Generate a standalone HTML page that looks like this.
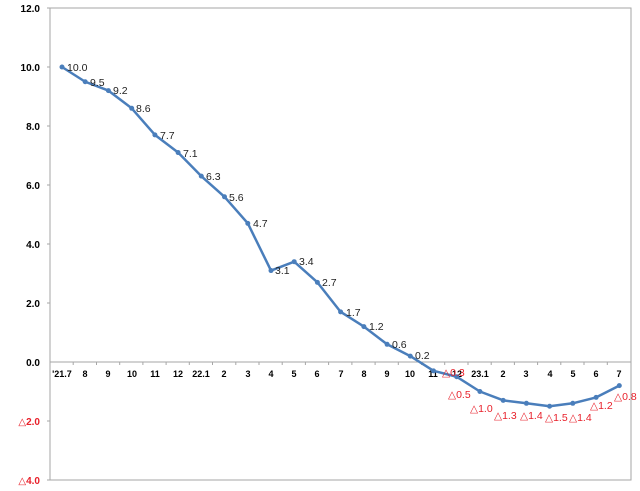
<!DOCTYPE html>
<html><head><meta charset="utf-8"><style>
html,body{margin:0;padding:0;background:#fff;}
svg{display:block;font-family:"Liberation Sans","DejaVu Sans",sans-serif;}
</style></head><body>
<svg width="640" height="491" viewBox="0 0 640 491" xmlns="http://www.w3.org/2000/svg">
<rect x="0" y="0" width="640" height="491" fill="#fff"/>
<rect x="50" y="8" width="581" height="472" fill="none" stroke="#a6a6a6" stroke-width="1"/>
<line x1="50" y1="362" x2="631" y2="362" stroke="#a6a6a6"/>
<g stroke="#a6a6a6">
<line x1="47" y1="8" x2="50" y2="8"/><line x1="47" y1="67" x2="50" y2="67"/><line x1="47" y1="126" x2="50" y2="126"/><line x1="47" y1="185" x2="50" y2="185"/><line x1="47" y1="244" x2="50" y2="244"/><line x1="47" y1="303" x2="50" y2="303"/><line x1="47" y1="421" x2="50" y2="421"/><line x1="47" y1="480" x2="50" y2="480"/>
<line x1="73.2" y1="362" x2="73.2" y2="365"/><line x1="96.5" y1="362" x2="96.5" y2="365"/><line x1="119.7" y1="362" x2="119.7" y2="365"/><line x1="142.9" y1="362" x2="142.9" y2="365"/><line x1="166.1" y1="362" x2="166.1" y2="365"/><line x1="189.3" y1="362" x2="189.3" y2="365"/><line x1="212.5" y1="362" x2="212.5" y2="365"/><line x1="235.8" y1="362" x2="235.8" y2="365"/><line x1="259" y1="362" x2="259" y2="365"/><line x1="282.2" y1="362" x2="282.2" y2="365"/><line x1="305.4" y1="362" x2="305.4" y2="365"/><line x1="328.6" y1="362" x2="328.6" y2="365"/><line x1="351.9" y1="362" x2="351.9" y2="365"/><line x1="375.1" y1="362" x2="375.1" y2="365"/><line x1="398.3" y1="362" x2="398.3" y2="365"/><line x1="421.5" y1="362" x2="421.5" y2="365"/><line x1="444.7" y1="362" x2="444.7" y2="365"/><line x1="468" y1="362" x2="468" y2="365"/><line x1="491.2" y1="362" x2="491.2" y2="365"/><line x1="514.4" y1="362" x2="514.4" y2="365"/><line x1="537.6" y1="362" x2="537.6" y2="365"/><line x1="560.8" y1="362" x2="560.8" y2="365"/><line x1="584" y1="362" x2="584" y2="365"/><line x1="607.3" y1="362" x2="607.3" y2="365"/>
</g>
<g font-size="10" font-weight="bold" text-anchor="end">
<text x="40" y="12" fill="#000">12.0</text>
<text x="40" y="71" fill="#000">10.0</text>
<text x="40" y="130" fill="#000">8.0</text>
<text x="40" y="189" fill="#000">6.0</text>
<text x="40" y="248" fill="#000">4.0</text>
<text x="40" y="307" fill="#000">2.0</text>
<text x="40" y="366" fill="#000">0.0</text>
<text x="40" y="425" fill="#e8202a">△2.0</text>
<text x="40" y="484" fill="#e8202a">△4.0</text>
</g>
<g font-size="9" font-weight="bold" text-anchor="middle" fill="#000">
<text x="62" y="377">'21.7</text><text x="85" y="377">8</text><text x="108" y="377">9</text><text x="132" y="377">10</text><text x="155" y="377">11</text><text x="178" y="377">12</text><text x="201" y="377">22.1</text><text x="224" y="377">2</text><text x="248" y="377">3</text><text x="271" y="377">4</text><text x="294" y="377">5</text><text x="317" y="377">6</text><text x="341" y="377">7</text><text x="364" y="377">8</text><text x="387" y="377">9</text><text x="410" y="377">10</text><text x="433" y="377">11</text><text x="457" y="377">12</text><text x="480" y="377">23.1</text><text x="503" y="377">2</text><text x="526" y="377">3</text><text x="550" y="377">4</text><text x="573" y="377">5</text><text x="596" y="377">6</text><text x="619" y="377">7</text>
</g>
<polyline fill="none" stroke="#4a7ebb" stroke-width="2.5" stroke-linejoin="round" points="62,67 85.2,81.75 108.4,90.6 131.7,108.3 154.9,134.85 178.1,152.55 201.3,176.15 224.5,196.8 247.8,223.35 271,270.55 294.2,261.7 317.4,282.35 340.6,311.85 363.9,326.6 387.1,344.3 410.3,356.1 433.5,370.85 456.7,376.75 479.9,391.5 503.2,400.35 526.4,403.3 549.6,406.25 572.8,403.3 596.1,397.4 619.3,385.6"/>
<g fill="#4a7ebb">
<circle cx="62" cy="67" r="2.5"/><circle cx="85.2" cy="81.75" r="2.5"/><circle cx="108.4" cy="90.6" r="2.5"/><circle cx="131.7" cy="108.3" r="2.5"/><circle cx="154.9" cy="134.85" r="2.5"/><circle cx="178.1" cy="152.55" r="2.5"/><circle cx="201.3" cy="176.15" r="2.5"/><circle cx="224.5" cy="196.8" r="2.5"/><circle cx="247.8" cy="223.35" r="2.5"/><circle cx="271" cy="270.55" r="2.5"/><circle cx="294.2" cy="261.7" r="2.5"/><circle cx="317.4" cy="282.35" r="2.5"/><circle cx="340.6" cy="311.85" r="2.5"/><circle cx="363.9" cy="326.6" r="2.5"/><circle cx="387.1" cy="344.3" r="2.5"/><circle cx="410.3" cy="356.1" r="2.5"/><circle cx="433.5" cy="370.85" r="2.5"/><circle cx="456.7" cy="376.75" r="2.5"/><circle cx="479.9" cy="391.5" r="2.5"/><circle cx="503.2" cy="400.35" r="2.5"/><circle cx="526.4" cy="403.3" r="2.5"/><circle cx="549.6" cy="406.25" r="2.5"/><circle cx="572.8" cy="403.3" r="2.5"/><circle cx="596.1" cy="397.4" r="2.5"/><circle cx="619.3" cy="385.6" r="2.5"/>
</g>
<g font-size="10.5" fill="#222">
<text x="67" y="71">10.0</text><text x="90" y="86">9.5</text><text x="113" y="94">9.2</text><text x="136" y="112">8.6</text><text x="160" y="139">7.7</text><text x="183" y="157">7.1</text><text x="206" y="180">6.3</text><text x="229" y="201">5.6</text><text x="253" y="227">4.7</text><text x="275" y="274">3.1</text><text x="299" y="265">3.4</text><text x="322" y="286">2.7</text><text x="346" y="316">1.7</text><text x="369" y="330">1.2</text><text x="392" y="348">0.6</text><text x="415" y="359">0.2</text>
</g>
<g font-size="10.5" fill="#e8202a">
<text x="442" y="376">△0.3</text><text x="448" y="398">△0.5</text><text x="470" y="412">△1.0</text><text x="494" y="419">△1.3</text><text x="520" y="419">△1.4</text><text x="545" y="421">△1.5</text><text x="569" y="421">△1.4</text><text x="590" y="409">△1.2</text><text x="614" y="400">△0.8</text>
</g>
</svg>
</body></html>
